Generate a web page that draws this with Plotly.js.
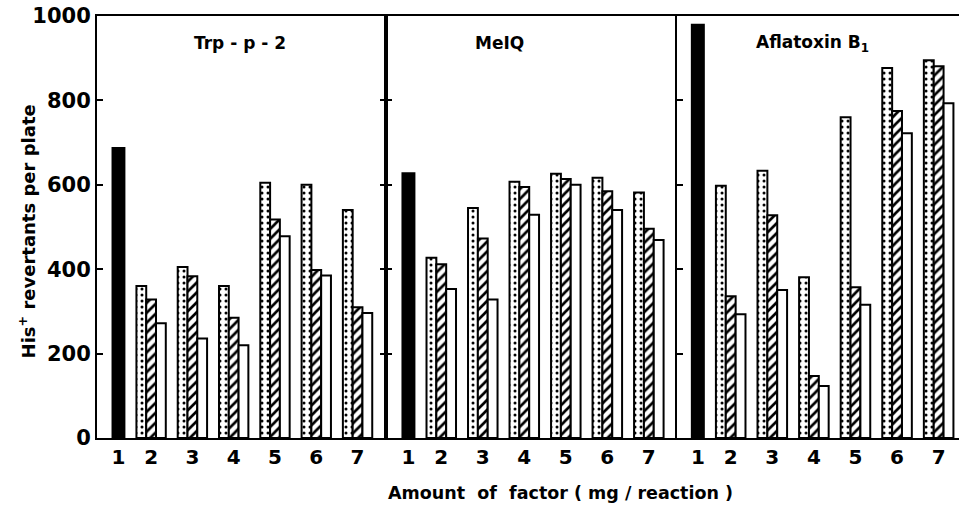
<!DOCTYPE html>
<html>
<head>
<meta charset="utf-8">
<script src="https://cdn.plot.ly/plotly-3.0.1.min.js"></script>
<style>html,body{margin:0;padding:0;background:#fff;}#chart{width:959px;height:505px;}</style>
</head>
<body>
<div id="chart"></div>
<script>
// ---- data ----
const panelNames = ['Trp - p - 2', 'MeIQ', 'Aflatoxin B<sub>1</sub>'];
const controlGroup = [1];
const doseGroups = [2, 3, 4, 5, 6, 7];
const tickLabels = ['1', '2', '3', '4', '5', '6', '7'];
const yTicks = [0, 200, 400, 600, 800, 1000];

const controlValues = [688, 628, 980];

const dottedTrp  = [360, 405, 360, 605, 600, 540];
const hatchedTrp = [328, 383, 285, 518, 398, 310];
const whiteTrp   = [272, 236, 220, 478, 385, 296];

const dottedMeIQ  = [427, 545, 607, 626, 617, 582];
const hatchedMeIQ = [412, 473, 595, 614, 585, 496];
const whiteMeIQ   = [353, 328, 529, 600, 540, 469];

const dottedAfla  = [598, 633, 381, 760, 877, 895];
const hatchedAfla = [336, 528, 147, 357, 775, 881];
const whiteAfla   = [293, 351, 123, 316, 722, 793];

const seriesByPanel = [
  [dottedTrp, hatchedTrp, whiteTrp],
  [dottedMeIQ, hatchedMeIQ, whiteMeIQ],
  [dottedAfla, hatchedAfla, whiteAfla]
];

// ---- styles ----
const FONT = 'DejaVu Sans, Arial, sans-serif';
const suffix = ['', '2', '3'];
const barW = 0.237;
const seriesStyle = [
  {offset: -0.355, pattern: {shape: '.', fgcolor: 'black', bgcolor: 'white', size: 6, solidity: 0.2}},
  {offset: -0.118, pattern: {shape: '/', fgcolor: 'black', bgcolor: 'white', size: 7, solidity: 0.38}},
  {offset: 0.119, pattern: {shape: '', fgcolor: 'black', bgcolor: 'white'}}
];

const traces = [];
for (let p = 0; p < 3; p++) {
  const xa = 'x' + suffix[p], ya = 'y' + suffix[p];
  traces.push({
    type: 'bar', x: controlGroup, y: [controlValues[p]], xaxis: xa, yaxis: ya,
    width: 0.3, offset: 0.06,
    marker: {color: 'black', line: {color: 'black', width: 1.5}},
    showlegend: false, hoverinfo: 'skip'
  });
  for (let s = 0; s < 3; s++) {
    traces.push({
      type: 'bar', x: doseGroups, y: seriesByPanel[p][s], xaxis: xa, yaxis: ya,
      width: barW, offset: seriesStyle[s].offset,
      marker: {color: 'white', pattern: seriesStyle[s].pattern, line: {color: 'black', width: 2}},
      showlegend: false, hoverinfo: 'skip'
    });
  }
}

const domains = [[0, 0.3353], [0.3353, 0.6729], [0.6729, 1]];
const ranges = [[0.69, 7.69], [0.67, 7.68], [0.71, 7.49]];
const tickPos = [1.21, 2, 3, 4, 5, 6, 7];

const layout = {
  width: 959, height: 505,
  margin: {l: 97, r: 0, t: 16, b: 67},
  paper_bgcolor: 'white', plot_bgcolor: 'white',
  barmode: 'overlay',
  font: {family: FONT, color: 'black'},
  showlegend: false,
  annotations: [
    {text: 'His<sup>+</sup> revertants per plate', xref: 'paper', yref: 'paper',
     x: -0.081, y: 0.49, xanchor: 'center', yanchor: 'middle', textangle: -90, showarrow: false,
     font: {family: FONT, size: 18, color: 'black', weight: 'bold'}},
    {text: 'Amount  of  factor ( mg / reaction )', xref: 'paper', yref: 'paper',
     x: 0.538, y: -0.13, xanchor: 'center', yanchor: 'middle', showarrow: false,
     font: {family: FONT, size: 17.5, color: 'black', weight: 'bold'}}
  ]
};
const titleX = [0.1659, 0.4675, 0.8306];
for (let p = 0; p < 3; p++) {
  layout['xaxis' + suffix[p]] = {
    domain: domains[p], range: ranges[p], anchor: 'y' + suffix[p],
    tickmode: 'array', tickvals: tickPos, ticktext: tickLabels,
    ticks: '', showgrid: false, zeroline: false,
    showline: true, linecolor: 'black', linewidth: 2, mirror: true,
    tickfont: {family: FONT, size: 20, color: 'black', weight: 'bold'},
    fixedrange: true
  };
  layout['yaxis' + suffix[p]] = {
    range: [0, 1000], anchor: 'x' + suffix[p],
    tickmode: 'array', tickvals: yTicks,
    ticks: 'inside', ticklen: 6, tickwidth: 2, tickcolor: 'black',
    showticklabels: p === 0,
    showgrid: false, zeroline: false,
    showline: true, linecolor: 'black', linewidth: 2,
    mirror: p === 0 ? 'ticks' : false,
    tickfont: {family: FONT, size: 21, color: 'black', weight: 'bold'},
    fixedrange: true
  };
  layout.annotations.push({
    text: panelNames[p], xref: 'paper', yref: 'paper', x: titleX[p], y: 0.936,
    xanchor: 'center', yanchor: 'middle',
    showarrow: false, font: {family: FONT, size: 17, color: 'black', weight: 'bold'}
  });
}

Plotly.newPlot('chart', traces, layout, {displayModeBar: false, staticPlot: true});
</script>
</body>
</html>
